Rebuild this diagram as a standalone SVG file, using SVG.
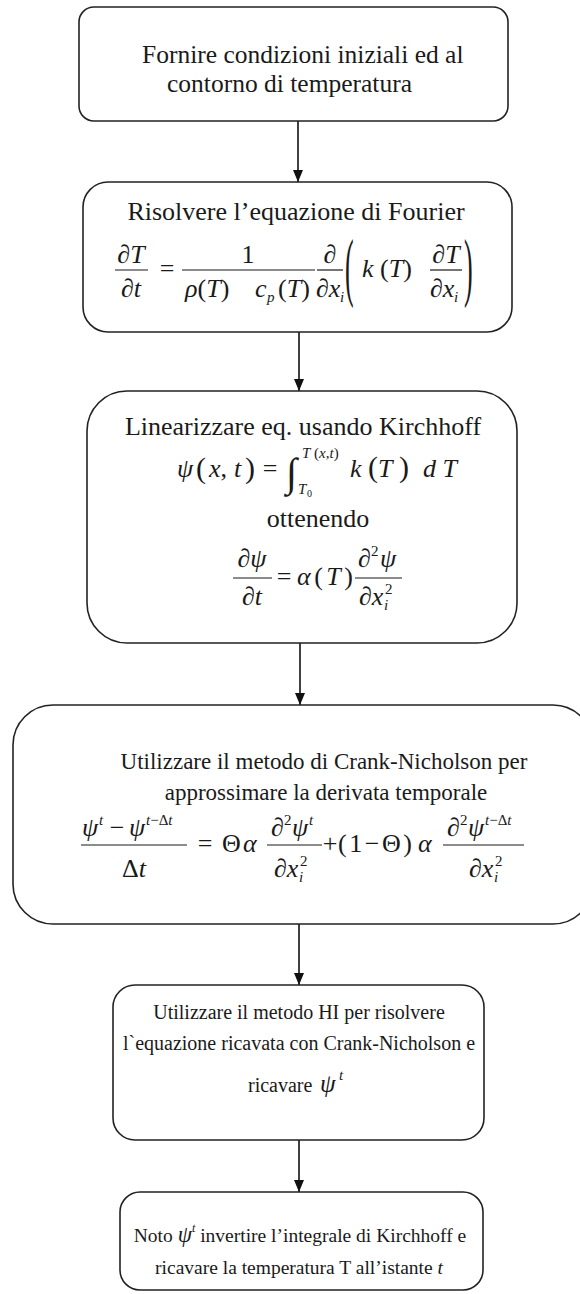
<svg xmlns="http://www.w3.org/2000/svg" width="580" height="1294" viewBox="0 0 580 1294">
<defs>
<style>
.box{fill:#fff;stroke:#222;stroke-width:1.6}
.t{font-family:"Liberation Serif","Times New Roman",serif;font-size:26px;fill:#1a1a1a}
.i{font-style:italic}
.sm{font-size:15px}
.xs{font-size:10px}
.m23{font-size:23px}
.m20{font-size:20px}
.m19{font-size:19.5px}
.bar{stroke:#1a1a1a;stroke-width:1.2}
.conn{stroke:#111;stroke-width:1.6;fill:none}
</style>
<marker id="ah" viewBox="0 0 12 10" refX="12" refY="5" markerWidth="12" markerHeight="10" markerUnits="userSpaceOnUse" orient="auto">
<path d="M0,0 L12,5 L0,10 z" fill="#111"/>
</marker>
</defs>
<rect width="580" height="1294" fill="#fff"/>

<g id="connectors">
<line class="conn" x1="298" y1="121" x2="298" y2="182" marker-end="url(#ah)"/>
<line class="conn" x1="299" y1="332" x2="299" y2="391" marker-end="url(#ah)"/>
<line class="conn" x1="300" y1="643" x2="300" y2="705" marker-end="url(#ah)"/>
<line class="conn" x1="299" y1="924" x2="299" y2="985" marker-end="url(#ah)"/>
<line class="conn" x1="299" y1="1140" x2="299" y2="1192" marker-end="url(#ah)"/>
</g>

<g id="n1">
<rect class="box" x="79" y="7" width="429" height="114" rx="15"/>
<text class="t" x="142" y="63" style="font-size:25.5px">Fornire condizioni iniziali ed al</text>
<text class="t" x="167" y="92" style="font-size:25.5px">contorno di temperatura</text>
</g>

<g id="n2">
<rect class="box" x="83" y="182" width="429" height="150" rx="25"/>
<text class="t" x="296" y="220" text-anchor="middle">Risolvere l’equazione di Fourier</text>
<text class="t" x="131" y="263" text-anchor="middle">∂<tspan class="i">T</tspan></text>
<line class="bar" x1="115" y1="270" x2="148" y2="270"/>
<text class="t" x="131" y="297" text-anchor="middle">∂<tspan class="i">t</tspan></text>
<text class="t" x="167" y="277" text-anchor="middle">=</text>
<text class="t" x="248" y="263" text-anchor="middle">1</text>
<line class="bar" x1="182" y1="270" x2="315" y2="270"/>
<text class="t" x="185" y="297"><tspan class="i">ρ</tspan>(<tspan class="i">T</tspan>)</text>
<text class="t i" x="255" y="297">c</text>
<text class="t i sm" x="267" y="302">p</text>
<text class="t" x="278" y="297">(<tspan class="i">T</tspan>)</text>
<text class="t" x="330" y="263" text-anchor="middle">∂</text>
<line class="bar" x1="317" y1="270" x2="343" y2="270"/>
<text class="t" x="316" y="297">∂<tspan class="i">x</tspan></text>
<text class="t i sm" x="340" y="302">i</text>
<text class="t" transform="translate(345,292) scale(1,2.9)">(</text>
<text class="t" x="362" y="277"><tspan class="i">k</tspan> (<tspan class="i">T</tspan>)</text>
<text class="t" x="446" y="263" text-anchor="middle">∂<tspan class="i">T</tspan></text>
<line class="bar" x1="430" y1="270" x2="462" y2="270"/>
<text class="t" x="430" y="297">∂<tspan class="i">x</tspan></text>
<text class="t i sm" x="454" y="302">i</text>
<text class="t" transform="translate(464,292) scale(1,2.9)">)</text>
</g>

<g id="n3">
<rect class="box" x="87" y="391" width="430" height="252" rx="40"/>
<text class="t" x="303" y="435" text-anchor="middle">Linearizzare eq. usando Kirchhoff</text>
<text class="t i" x="177" y="477">ψ</text>
<text class="t" x="196" y="478" style="font-size:30px">(</text>
<text class="t" x="209" y="477"><tspan class="i">x</tspan>,</text>
<text class="t i" x="234" y="477">t</text>
<text class="t" x="245" y="478" style="font-size:30px">)</text>
<text class="t" x="270" y="477" text-anchor="middle">=</text>
<text class="t" x="286" y="486" style="font-size:40px">∫</text>
<text class="t sm" x="302" y="458"><tspan class="i">T</tspan> (<tspan class="i">x</tspan>,<tspan class="i">t</tspan>)</text>
<text class="t i sm" x="298" y="494">T</text>
<text class="t xs" x="307" y="497">0</text>
<text class="t" x="350" y="477"><tspan class="i">k</tspan> <tspan style="font-size:30px">(</tspan><tspan class="i">T</tspan> <tspan style="font-size:30px">)</tspan></text>
<text class="t i" x="423" y="477">d T</text>
<text class="t" x="318" y="527" text-anchor="middle">ottenendo</text>
<text class="t" x="252" y="567" text-anchor="middle">∂<tspan class="i">ψ</tspan></text>
<line class="bar" x1="233" y1="578" x2="272" y2="578"/>
<text class="t" x="252" y="605" text-anchor="middle">∂<tspan class="i">t</tspan></text>
<text class="t" x="284" y="585" text-anchor="middle">=</text>
<text class="t" x="297" y="585" textLength="56" lengthAdjust="spacing"><tspan class="i">α</tspan>(<tspan class="i">T</tspan>)</text>
<text class="t" x="358" y="567">∂</text>
<text class="t sm" x="371" y="556">2</text>
<text class="t i" x="380" y="567">ψ</text>
<line class="bar" x1="355" y1="578" x2="402" y2="578"/>
<text class="t" x="359" y="605">∂<tspan class="i">x</tspan></text>
<text class="t sm" x="385" y="594">2</text>
<text class="t i sm" x="384" y="610">i</text>
</g>

<g id="n4">
<rect class="box" x="13" y="705" width="580" height="219" rx="40"/>
<text class="t m23" x="324" y="769" text-anchor="middle">Utilizzare il metodo di Crank-Nicholson per</text>
<text class="t m23" x="326" y="800" text-anchor="middle">approssimare la derivata temporale</text>
<text class="t i" x="82" y="836">ψ</text>
<text class="t i sm" x="99" y="825">t</text>
<text class="t" x="117" y="836" text-anchor="middle">−</text>
<text class="t i" x="129" y="836">ψ</text>
<text class="t sm" x="146" y="825"><tspan class="i">t</tspan>−Δ<tspan class="i">t</tspan></text>
<line class="bar" x1="81" y1="845" x2="187" y2="845"/>
<text class="t" x="134" y="877" text-anchor="middle">Δ<tspan class="i">t</tspan></text>
<text class="t" x="205" y="852" text-anchor="middle">=</text>
<text class="t" x="222" y="852">Θ</text>
<text class="t i" x="243" y="852">α</text>
<text class="t" x="271" y="836">∂</text>
<text class="t sm" x="284" y="825">2</text>
<text class="t i" x="292" y="836">ψ</text>
<text class="t i sm" x="309" y="825">t</text>
<line class="bar" x1="267" y1="845" x2="322" y2="845"/>
<text class="t" x="274" y="877">∂<tspan class="i">x</tspan></text>
<text class="t sm" x="300" y="866">2</text>
<text class="t i sm" x="299" y="882">i</text>
<text class="t" x="330" y="852" text-anchor="middle">+</text>
<text class="t" x="338" y="852" textLength="74" lengthAdjust="spacing">(1−Θ)</text>
<text class="t i" x="418" y="852">α</text>
<text class="t" x="447" y="836">∂</text>
<text class="t sm" x="460" y="825">2</text>
<text class="t i" x="468" y="836">ψ</text>
<text class="t sm" x="485" y="825"><tspan class="i">t</tspan>−Δ<tspan class="i">t</tspan></text>
<line class="bar" x1="443" y1="845" x2="524" y2="845"/>
<text class="t" x="469" y="877">∂<tspan class="i">x</tspan></text>
<text class="t sm" x="495" y="866">2</text>
<text class="t i sm" x="494" y="882">i</text>
</g>

<g id="n5">
<rect class="box" x="113" y="985" width="371" height="155" rx="22"/>
<text class="t m20" x="299" y="1019" text-anchor="middle">Utilizzare il metodo HI per risolvere</text>
<text class="t m20" x="299" y="1050" text-anchor="middle">l`equazione ricavata con Crank-Nicholson e</text>
<text class="t m20" x="248" y="1092">ricavare</text>
<text class="t i" x="320" y="1092" style="font-size:25px">ψ</text>
<text class="t i sm" x="339" y="1080">t</text>
</g>

<g id="n6">
<rect class="box" x="120" y="1192" width="363" height="98" rx="20"/>
<text class="t m19" x="300" y="1242" text-anchor="middle">Noto <tspan class="i" style="font-size:23px">ψ</tspan><tspan class="i" style="font-size:12px" dy="-10">t</tspan><tspan dy="10">  invertire l’integrale di Kirchhoff e</tspan></text>
<text class="t m19" x="299" y="1274" text-anchor="middle">ricavare la temperatura T all’istante <tspan class="i">t</tspan></text>
</g>
</svg>
